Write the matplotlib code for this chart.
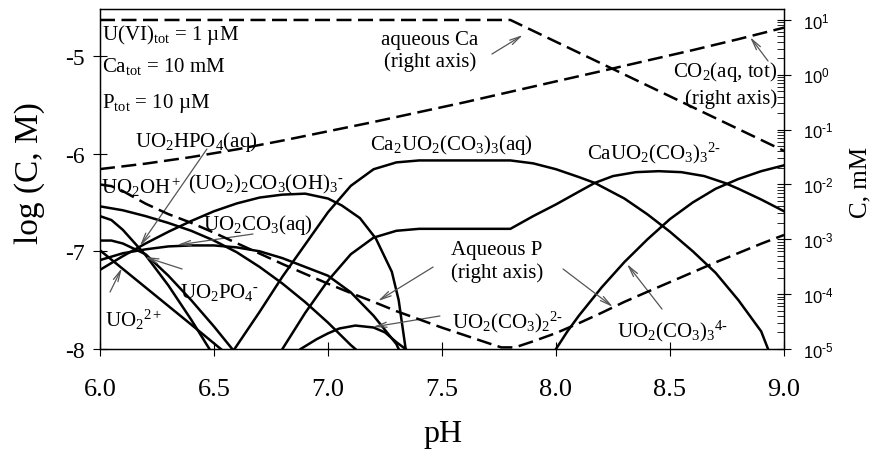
import matplotlib
matplotlib.use('Agg')
import matplotlib.pyplot as plt
from matplotlib.ticker import FixedLocator, LogLocator, NullFormatter

plt.rcParams['font.family'] = ['Liberation Serif', 'DejaVu Serif']
plt.rcParams['mathtext.fontset'] = 'custom'
plt.rcParams['mathtext.rm'] = 'Liberation Serif'
plt.rcParams['mathtext.it'] = 'Liberation Serif:italic'
plt.rcParams['mathtext.bf'] = 'Liberation Serif:bold'
plt.rcParams['mathtext.sf'] = 'Liberation Sans'
plt.rcParams['axes.unicode_minus'] = False

# ---------------- data: U(VI) species, log10 concentration (M), left axis ----------------
ph_uo2 = [6.0, 6.1, 6.2, 6.3, 6.4, 6.53]
log_uo2 = [-6.99, -7.18, -7.37, -7.56, -7.75, -8.0]

ph_uo2hpo4 = [6.0, 6.05, 6.1, 6.2, 6.3, 6.4, 6.48]
log_uo2hpo4 = [-6.64, -6.68, -6.78, -7.04, -7.35, -7.70, -8.0]

ph_uo2po4 = [6.0, 6.05, 6.1, 6.2, 6.3, 6.4, 6.5, 6.58]
log_uo2po4 = [-6.89, -6.89, -6.92, -7.03, -7.25, -7.50, -7.77, -8.0]

ph_uo2oh = [6.0, 6.1, 6.2, 6.3, 6.4, 6.5, 6.6, 6.7, 6.8, 6.9, 7.0, 7.1, 7.12]
log_uo2oh = [-6.54, -6.58, -6.64, -6.71, -6.79, -6.89, -7.01, -7.16, -7.33, -7.52, -7.73, -7.96, -8.0]

ph_uo2co3 = [6.0, 6.1, 6.2, 6.3, 6.4, 6.5, 6.6, 6.7, 6.8, 6.9, 7.0, 7.1, 7.2, 7.3, 7.31]
log_uo2co3 = [-7.09, -7.02, -6.98, -6.95, -6.94, -6.94, -6.96, -7.00, -7.07, -7.16, -7.25, -7.42, -7.66, -7.95, -8.0]

ph_dimer = [6.0, 6.1, 6.2, 6.3, 6.4, 6.5, 6.6, 6.7, 6.8, 6.9, 7.0, 7.06, 7.14, 7.21, 7.28, 7.31, 7.34]
log_dimer = [-7.19, -7.05, -6.92, -6.80, -6.69, -6.59, -6.51, -6.45, -6.42, -6.41, -6.46, -6.53, -6.66, -6.87, -7.21, -7.50, -7.99]

ph_uo2co32 = [6.88, 6.95, 7.0, 7.05, 7.12, 7.2, 7.25, 7.3, 7.34]
log_uo2co32 = [-8.0, -7.90, -7.84, -7.79, -7.76, -7.78, -7.83, -7.93, -8.0]

ph_uo2co33 = [8.0, 8.05, 8.1, 8.2, 8.3, 8.4, 8.5, 8.6, 8.7, 8.8, 8.9, 9.0]
log_uo2co33 = [-8.0, -7.82, -7.66, -7.37, -7.11, -6.88, -6.67, -6.50, -6.36, -6.26, -6.18, -6.12]

ph_ca2 = [6.59, 6.7, 6.8, 6.9, 7.0, 7.1, 7.2, 7.3, 7.4, 7.8, 7.9, 8.0, 8.1, 8.17, 8.3, 8.4, 8.5,
          8.6, 8.7, 8.8, 8.9, 8.93]
log_ca2 = [-8.0, -7.62, -7.26, -6.93, -6.60, -6.33, -6.16, -6.09, -6.07, -6.07, -6.10, -6.16, -6.24,
           -6.30, -6.46, -6.62, -6.80, -7.00, -7.22, -7.50, -7.82, -8.0]

ph_ca1 = [6.80, 6.9, 7.0, 7.1, 7.2, 7.3, 7.4, 7.8, 7.9, 8.0, 8.1, 8.17, 8.25, 8.35, 8.45, 8.55,
          8.65, 8.74, 8.8, 8.9, 9.0]
log_ca1 = [-8.0, -7.63, -7.30, -7.03, -6.86, -6.79, -6.77, -6.77, -6.64, -6.52, -6.39, -6.30,
           -6.23, -6.19, -6.18, -6.19, -6.23, -6.30, -6.36, -6.47, -6.59]

# ---------------- data: right axis, concentration (mM) ----------------
ph_ca_aq = [6.0, 7.8, 9.0]
mm_ca_aq = [10.0, 10.0, 0.041]

ph_co2 = [6.0, 6.2, 6.4, 6.6, 6.8, 7.0, 7.2, 7.4, 7.6, 7.8, 8.0, 8.2, 8.4, 8.6, 8.8, 9.0]
mm_co2 = [0.0191, 0.0240, 0.0316, 0.0437, 0.0631, 0.0933, 0.138, 0.209, 0.316, 0.490,
          0.759, 1.17, 1.82, 2.82, 4.47, 7.24]

ph_p = [6.0, 6.05, 6.1, 6.2, 6.3, 6.4, 6.5, 6.6, 6.7, 6.8, 6.9, 7.0, 7.1, 7.2, 7.3, 7.4, 7.5,
        7.6, 7.7, 7.76, 7.82, 7.9, 8.0, 8.1, 8.2, 8.3, 8.4, 8.5, 8.6, 8.7, 8.8, 8.9, 9.0]
mm_p = [1.00e-2, 9.33e-3, 7.59e-3, 4.47e-3, 2.88e-3, 2.00e-3, 1.32e-3, 8.51e-4, 5.50e-4,
        3.55e-4, 2.34e-4, 1.55e-4, 1.05e-4, 7.24e-5, 4.90e-5, 3.47e-5, 2.45e-5, 1.78e-5,
        1.29e-5, 1.07e-5, 1.07e-5, 1.38e-5, 1.95e-5, 2.95e-5, 4.57e-5, 7.24e-5, 1.10e-4,
        1.66e-4, 2.51e-4, 3.80e-4, 5.62e-4, 8.32e-4, 1.20e-3]

xticks = [6.0, 6.5, 7.0, 7.5, 8.0, 8.5, 9.0]
xtick_labels = ['6.0', '6.5', '7.0', '7.5', '8.0', '8.5', '9.0']
yticks = [-8, -7, -6, -5]
ytick_labels = ['-8', '-7', '-6', '-5']
rticks = [1e-5, 1e-4, 1e-3, 1e-2, 1e-1, 1e0, 1e1]
rtick_labels = [r'$\mathsf{10^{\text{-}5}}$', r'$\mathsf{10^{\text{-}4}}$', r'$\mathsf{10^{\text{-}3}}$',
                r'$\mathsf{10^{\text{-}2}}$', r'$\mathsf{10^{\text{-}1}}$', r'$\mathsf{10^{0}}$',
                r'$\mathsf{10^{1}}$']

# ---------------- figure ----------------
W, H = 880, 460
fig = plt.figure(figsize=(W / 100, H / 100), dpi=100)
ax = fig.add_axes([100 / W, 1 - 350 / H, 684 / W, 340 / H])
ax2 = ax.twinx()

solid = dict(color='black', lw=1.8, solid_joinstyle='round')
for xs, ys in [(ph_uo2, log_uo2), (ph_uo2hpo4, log_uo2hpo4), (ph_uo2po4, log_uo2po4),
               (ph_uo2oh, log_uo2oh), (ph_uo2co3, log_uo2co3), (ph_dimer, log_dimer),
               (ph_uo2co32, log_uo2co32), (ph_uo2co33, log_uo2co33), (ph_ca2, log_ca2),
               (ph_ca1, log_ca1)]:
    ax.plot(xs, ys, **solid)

dashed = dict(color='black', lw=1.8, dashes=(6, 2.6))
ax2.plot(ph_ca_aq, mm_ca_aq, **dashed)
ax2.plot(ph_co2, mm_co2, **dashed)
ax2.plot(ph_p, mm_p, **dashed)

ax.set_xlim(6.0, 9.0)
ax.set_ylim(-8, -4.52)
ax2.set_yscale('log')
ax2.set_ylim(1e-5, 10 ** 1.2)

ax.set_xticks(xticks)
ax.set_xticklabels(xtick_labels)
ax.set_yticks(yticks)
ax.set_yticklabels(ytick_labels)
ax.tick_params(axis='x', direction='inout', length=10, width=0.8, labelsize=19, pad=16, top=False)
ax.tick_params(axis='y', direction='inout', length=10, width=0.8, labelsize=17, pad=6, right=False)

ax2.yaxis.set_major_locator(FixedLocator(rticks))
ax2.set_yticklabels(rtick_labels)
ax2.yaxis.set_minor_locator(LogLocator(base=10, subs=range(2, 10), numticks=20))
ax2.yaxis.set_minor_formatter(NullFormatter())
ax2.tick_params(axis='y', which='major', direction='inout', length=10, width=0.8,
                labelsize=12, pad=9)
ax2.tick_params(axis='y', which='minor', direction='in', length=5, width=0.6)

for a in (ax, ax2):
    for s in a.spines.values():
        s.set_linewidth(0.9)

fig.text(30 / W, 1 - 173 / H, 'log (C, M)', rotation=90, fontsize=24, ha='center', va='center')
fig.text(443 / W, 1 - 435 / H, 'pH', fontsize=23, ha='center', va='center')
fig.text(860 / W, 1 - 182 / H, 'C, mM', rotation=90, fontsize=18, ha='center', va='center')

FS = 15
def label(x, y, s, ha='left'):
    ax.text(x, y, s, fontsize=FS, ha=ha, va='baseline')

def arrow(tail, head):
    ax.annotate('', xy=head, xytext=tail,
                arrowprops=dict(arrowstyle='->,head_length=0.8,head_width=0.18',
                                color='#555555', lw=0.9, shrinkA=0, shrinkB=0))

label(6.009, -4.827, r'U(VI)$_{\rm tot}$ = 1 µM')
label(6.009, -5.155, r'Ca$_{\rm tot}$ = 10 mM')
label(6.009, -5.523, r'P$_{\rm tot}$ = 10 µM')

label(7.447, -4.878, 'aqueous Ca', ha='center')
label(7.447, -5.103, '(right axis)', ha='center')
arrow((7.719, -4.981), (7.855, -4.786))

label(8.969, -5.206, r'CO$_2$(aq, tot)', ha='right')
label(8.969, -5.482, '(right axis)', ha='right')
arrow((8.930, -5.052), (8.851, -4.807))

label(6.154, -5.922, r'UO$_2$HPO$_4$(aq)')
arrow((6.469, -5.953), (6.175, -6.946))

label(6.004, -6.403, r'UO$_2$OH$^+$')
label(6.386, -6.362, r'(UO$_2$)$_2$CO$_3$(OH)$_3$$^{\text{-}}$')

label(6.452, -6.772, r'UO$_2$CO$_3$(aq)')
arrow((6.671, -6.823), (6.338, -6.936))

label(6.351, -7.468, r'UO$_2$PO$_4$$^{\text{-}}$')
arrow((6.360, -7.181), (6.197, -7.058))

label(6.022, -7.765, r'UO$_2$$^{2+}$')
arrow((6.044, -7.417), (6.096, -7.171))

label(7.184, -5.953, r'Ca$_2$UO$_2$(CO$_3$)$_3$(aq)')
label(8.136, -6.045, r'CaUO$_2$(CO$_3$)$_3$$^{\text{2-}}$')

label(7.741, -7.028, 'Aqueous P', ha='center')
label(7.741, -7.263, '(right axis)', ha='center')
arrow((7.461, -7.161), (7.219, -7.509))
arrow((8.031, -7.181), (8.250, -7.570))

label(7.544, -7.775, r'UO$_2$(CO$_3$)$_2$$^{\text{2-}}$')
arrow((7.491, -7.662), (7.197, -7.775))

label(8.268, -7.867, r'UO$_2$(CO$_3$)$_3$$^{\text{4-}}$')
arrow((8.465, -7.591), (8.311, -7.130))

fig.savefig('out.png', dpi=100)
